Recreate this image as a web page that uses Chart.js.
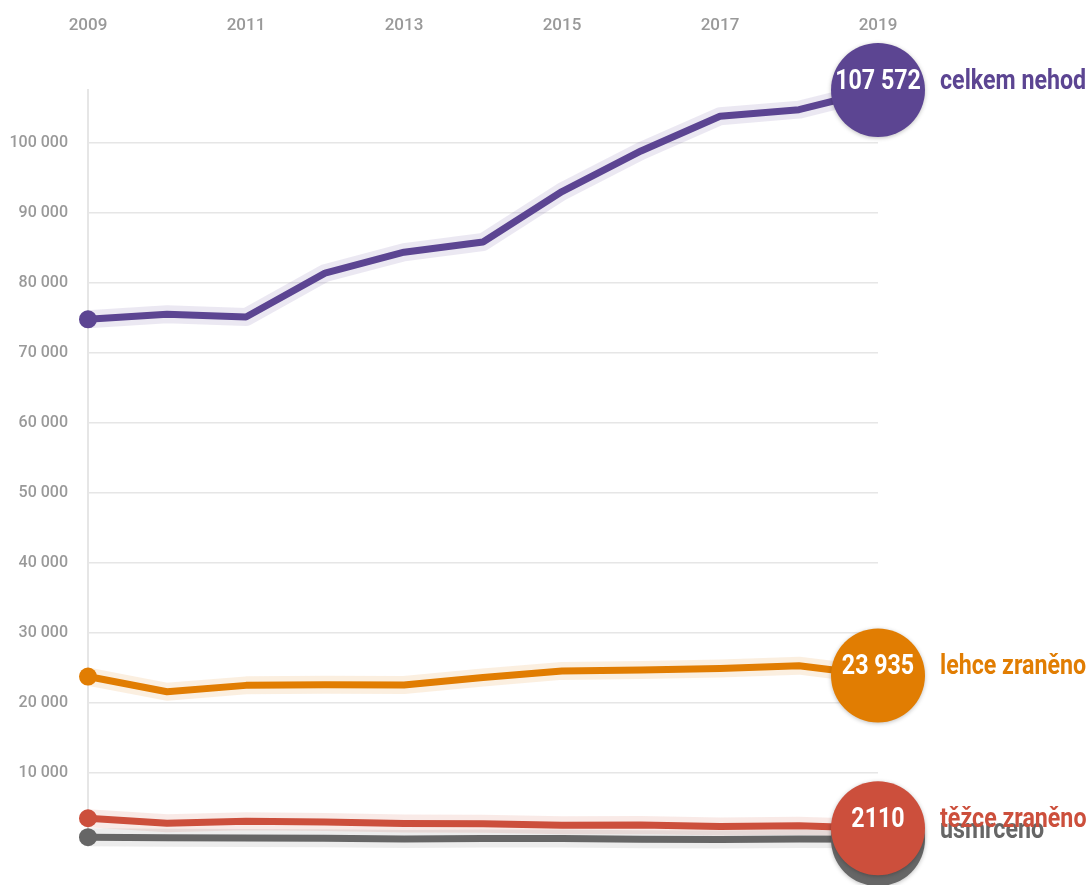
<!DOCTYPE html>
<html lang="cs">
<head>
<meta charset="utf-8">
<title>Nehody 2009–2019</title>
<script src="https://cdn.jsdelivr.net/npm/chart.js@4.4.1/dist/chart.umd.min.js"></script>
<style>
  html, body { margin: 0; padding: 0; background: #fff; }
  #wrap { width: 1088px; height: 885px; position: relative; }
</style>
</head>
<body>
<div id="wrap"><canvas id="chartNehody"></canvas></div>
<script>
// Data
const roky = [2009, 2010, 2011, 2012, 2013, 2014, 2015, 2016, 2017, 2018, 2019];
const celkemNehod = [74815, 75522, 75137, 81404, 84398, 85859, 93067, 98864, 103821, 104764, 107572];
const lehceZraneno = [23777, 21610, 22519, 22608, 22577, 23655, 24586, 24711, 24938, 25331, 23935];
const tezceZraneno = [3536, 2823, 3092, 2986, 2782, 2762, 2540, 2580, 2365, 2461, 2110];
const usmrceno = [832, 753, 707, 681, 583, 629, 660, 545, 502, 565, 547];
const osaYTicks = [10000, 20000, 30000, 40000, 50000, 60000, 70000, 80000, 90000, 100000];

const rady = [
    { nazev: 'usmrceno', data: usmrceno, barva: '#666666', halo: 'rgba(102, 102, 102, 0.12)' },
    { nazev: 'těžce zraněno', data: tezceZraneno, barva: '#cc4f3c', halo: 'rgba(204, 79, 60, 0.12)' },
    { nazev: 'lehce zraněno', data: lehceZraneno, barva: '#e17d02', halo: 'rgba(225, 125, 2, 0.12)' },
    { nazev: 'celkem nehod', data: celkemNehod, barva: '#5c4592', halo: 'rgba(92, 69, 146, 0.12)' }
];

const body = arr => arr.map((v, i) => ({ x: roky[i], y: v }));
// mezera jako oddělovač tisíců, čtyřmístná čísla bez mezery
const formatCislo = v => v < 10000 ? String(v) : String(v).replace(/\B(?=(\d{3})+(?!\d))/g, ' ');

const datasets = [];
rady.forEach(r => {
    datasets.push({
        label: r.nazev + ' (halo)',
        data: body(r.data),
        borderColor: r.halo,
        borderWidth: 18,
        pointRadius: 0,
        tension: 0,
        clip: false,
        order: 2,
        borderJoinStyle: 'round',
        borderCapStyle: 'round'
    });
});
rady.forEach(r => {
    datasets.push({
        label: r.nazev,
        data: body(r.data),
        borderColor: r.barva,
        backgroundColor: r.barva,
        borderWidth: 7,
        pointRadius: ctx => ctx.dataIndex === 0 ? 9 : 0,
        pointBorderWidth: 0,
        tension: 0,
        clip: false,
        order: 1,
        borderJoinStyle: 'round'
    });
});

// text zúžený (condensed) přes horizontální měřítko
function textUzky(ctx, text, x, y, zarovnani) {
    ctx.save();
    ctx.translate(x, y);
    ctx.scale(0.86, 1);
    ctx.textAlign = zarovnani;
    ctx.textBaseline = 'middle';
    ctx.fillText(text, 0, 0);
    ctx.restore();
}

const koncoveBubliny = {
    id: 'koncoveBubliny',
    afterDatasetsDraw(chart) {
        const { ctx, scales } = chart;
        const posledni = roky.length - 1;
        rady.forEach(r => {
            const x = scales.x.getPixelForValue(roky[posledni]);
            const y = scales.y.getPixelForValue(r.data[posledni]);
            ctx.save();
            ctx.shadowColor = 'rgba(0, 0, 0, 0.25)';
            ctx.shadowBlur = 4;
            ctx.shadowOffsetY = 1;
            ctx.fillStyle = r.barva;
            ctx.beginPath();
            ctx.arc(x, y, 47, 0, Math.PI * 2);
            ctx.fill();
            ctx.restore();

            ctx.save();
            ctx.font = 'bold 27px Roboto, "Noto Sans", sans-serif';
            if (r.nazev !== 'usmrceno') {
                ctx.fillStyle = '#ffffff';
                textUzky(ctx, formatCislo(r.data[posledni]), x, y - 8, 'center');
            }
            ctx.fillStyle = r.barva;
            textUzky(ctx, r.nazev, x + 62, y - 8, 'left');
            ctx.restore();
        });
    }
};

new Chart(document.getElementById('chartNehody'), {
    type: 'line',
    data: { datasets },
    options: {
        responsive: true,
        maintainAspectRatio: false,
        animation: false,
        layout: { padding: { top: 0, left: 0, right: 210, bottom: 42 } },
        plugins: {
            legend: { display: false },
            tooltip: { enabled: false },
            title: { display: false }
        },
        scales: {
            x: {
                type: 'linear',
                position: 'top',
                min: 2009,
                max: 2019,
                afterFit: s => { s.height = 90; },
                grid: { display: false, drawTicks: false },
                border: { display: false },
                ticks: {
                    stepSize: 2,
                    padding: 54,
                    color: '#999999',
                    font: { family: 'Roboto', size: 17, weight: '500' },
                    callback: v => String(v)
                }
            },
            y: {
                type: 'linear',
                min: 0,
                max: celkemNehod[celkemNehod.length - 1],
                afterFit: s => { s.width = 88; },
                afterBuildTicks: s => { s.ticks = osaYTicks.map(v => ({ value: v })); },
                grid: { color: '#e6e6e6', lineWidth: 1.5, drawTicks: false },
                border: { display: true, color: '#e6e6e6', width: 2 },
                ticks: {
                    padding: 20,
                    color: '#999999',
                    font: { family: 'Roboto', size: 16, weight: '500' },
                    callback: v => formatCislo(v)
                }
            }
        }
    },
    plugins: [koncoveBubliny]
});
</script>
</body>
</html>
